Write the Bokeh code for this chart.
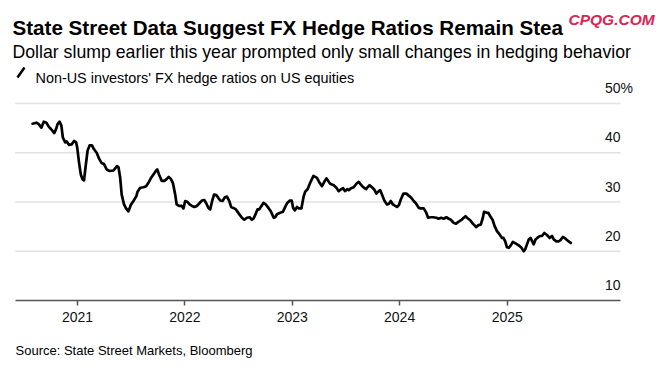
import pandas as pd
from bokeh.plotting import figure
from bokeh.models import (Range1d, FixedTicker, DatetimeTickFormatter, Label, Arrow, Title)
from bokeh.embed import file_html
from bokeh.resources import INLINE

TITLE = "State Street Data Suggest FX Hedge Ratios Remain Stea"
SUBTITLE = "Dollar slump earlier this year prompted only small changes in hedging behavior"
LEGEND = "Non-US investors' FX hedge ratios on US equities"
SOURCE = "Source: State Street Markets, Bloomberg"
WATERMARK = "CPQG.COM"

dates = [
    "2020-08-01", "2020-08-14", "2020-08-22", "2020-08-31", "2020-09-08", "2020-09-17", "2020-09-25",
    "2020-10-06", "2020-10-14", "2020-10-20", "2020-10-25", "2020-11-01", "2020-11-07", "2020-11-12",
    "2020-11-20", "2020-11-25", "2020-12-03", "2020-12-12", "2020-12-20", "2020-12-27", "2020-12-31",
    "2021-01-06", "2021-01-12", "2021-01-18", "2021-01-23", "2021-01-28", "2021-02-04", "2021-02-11",
    "2021-02-19", "2021-02-26", "2021-03-07", "2021-03-16", "2021-03-24", "2021-04-01", "2021-04-10",
    "2021-04-20", "2021-05-03", "2021-05-15", "2021-05-20", "2021-05-26", "2021-05-31", "2021-06-08",
    "2021-06-15", "2021-06-23", "2021-07-01", "2021-07-10", "2021-07-20", "2021-07-24", "2021-08-02",
    "2021-08-13", "2021-08-22", "2021-08-30", "2021-09-07", "2021-09-16", "2021-09-24", "2021-09-29",
    "2021-10-05", "2021-10-14", "2021-10-23", "2021-10-30", "2021-11-07", "2021-11-14", "2021-11-21",
    "2021-11-29", "2021-12-04", "2021-12-12", "2021-12-21", "2021-12-27", "2022-01-02",
    "2022-01-10", "2022-01-17", "2022-01-25", "2022-02-02", "2022-02-11", "2022-02-20", "2022-02-28",
    "2022-03-08", "2022-03-14", "2022-03-22", "2022-03-28", "2022-04-04", "2022-04-10", "2022-04-18",
    "2022-04-26", "2022-05-01", "2022-05-09", "2022-05-16", "2022-05-24", "2022-06-01", "2022-06-07",
    "2022-06-15", "2022-06-23", "2022-06-28", "2022-07-05", "2022-07-14", "2022-07-22", "2022-07-31",
    "2022-08-09", "2022-08-17", "2022-08-22", "2022-08-29", "2022-09-05", "2022-09-11", "2022-09-16",
    "2022-09-25", "2022-10-03", "2022-10-12", "2022-10-20", "2022-10-30", "2022-11-04", "2022-11-10",
    "2022-11-21", "2022-11-30", "2022-12-08", "2022-12-15", "2022-12-24", "2022-12-30",
    "2023-01-04", "2023-01-10", "2023-01-17", "2023-01-23", "2023-02-01", "2023-02-09", "2023-02-14",
    "2023-02-22", "2023-03-03", "2023-03-14", "2023-03-26", "2023-04-04", "2023-04-12", "2023-04-18",
    "2023-04-27", "2023-05-05", "2023-05-10", "2023-05-22", "2023-05-31", "2023-06-08", "2023-06-16",
    "2023-06-23", "2023-06-29", "2023-07-07", "2023-07-12", "2023-07-20", "2023-07-29", "2023-08-07",
    "2023-08-15", "2023-08-20", "2023-08-27", "2023-09-04", "2023-09-09", "2023-09-14", "2023-09-21",
    "2023-09-29", "2023-10-06", "2023-10-14", "2023-10-22", "2023-10-27", "2023-11-02", "2023-11-10",
    "2023-11-19", "2023-11-25", "2023-12-02", "2023-12-09", "2023-12-17", "2023-12-23", "2023-12-30",
    "2024-01-05", "2024-01-14", "2024-01-24", "2024-02-01", "2024-02-09", "2024-02-18", "2024-02-27",
    "2024-03-06", "2024-03-13", "2024-03-23", "2024-03-31", "2024-04-07", "2024-04-15", "2024-04-24",
    "2024-05-05", "2024-05-13", "2024-05-21", "2024-05-30", "2024-06-08", "2024-06-16", "2024-06-23",
    "2024-07-02", "2024-07-11", "2024-07-20", "2024-07-28", "2024-08-06", "2024-08-12", "2024-08-17",
    "2024-08-28", "2024-09-06", "2024-09-11", "2024-09-17", "2024-09-25", "2024-10-03", "2024-10-10",
    "2024-10-14", "2024-10-23", "2024-10-29", "2024-11-04", "2024-11-12", "2024-11-19", "2024-11-27",
    "2024-12-06", "2024-12-14", "2024-12-19", "2024-12-25", "2024-12-31",
    "2025-01-06", "2025-01-13", "2025-01-20", "2025-02-01", "2025-02-09", "2025-02-17", "2025-02-26",
    "2025-03-03", "2025-03-09", "2025-03-15", "2025-03-21", "2025-03-27", "2025-04-01", "2025-04-07",
    "2025-04-13", "2025-04-22", "2025-04-29", "2025-05-07", "2025-05-16", "2025-05-25", "2025-06-02",
    "2025-06-08", "2025-06-17", "2025-06-24", "2025-06-30", "2025-07-09", "2025-07-17", "2025-07-25",
    "2025-07-31", "2025-08-05",
]

hedge_ratio = [
    45.9, 46.1, 45.8, 45.1, 46.3, 46.1, 45.3,
    44.6, 44.0, 44.8, 45.8, 46.3, 45.5, 43.1,
    42.1, 42.3, 41.6, 41.7, 42.4, 42.1, 41.0,
    38.0, 35.6, 34.6, 34.4, 37.0, 40.4, 41.5,
    41.5, 40.7, 40.0, 38.7, 37.9, 37.7, 36.6,
    36.3, 36.4, 37.3, 37.1, 34.9, 31.5, 29.5,
    28.7, 28.1, 29.4, 30.2, 31.2, 32.1, 32.9,
    33.0, 33.2, 33.9, 34.8, 35.6, 36.3, 36.6,
    35.6, 34.3, 34.3, 34.6, 35.1, 34.7, 33.9,
    31.5, 29.5, 29.2, 29.2, 28.7, 30.2,
    30.0, 29.5, 29.2, 29.0, 29.2, 29.8, 30.3,
    30.4, 29.8, 28.8, 28.5, 30.3, 31.5, 31.4,
    30.7, 30.3, 30.2, 30.9, 31.1, 30.2, 29.0,
    28.8, 28.5, 28.1, 27.5, 26.8, 26.4, 26.8,
    26.9, 26.4, 26.6, 27.5, 28.5, 28.5, 29.0,
    29.8, 29.5, 28.8, 28.1, 26.8, 26.9, 27.5,
    27.8, 28.0, 29.0, 29.8, 30.3, 30.3,
    28.8, 28.3, 29.0, 28.7, 28.7, 31.2, 32.1,
    32.6, 33.9, 35.3, 34.9, 33.9, 33.2, 33.9,
    34.8, 34.1, 33.7, 33.4, 32.9, 32.2, 32.6,
    32.8, 32.2, 32.6, 32.4, 32.8, 33.0, 33.7,
    34.1, 33.7, 33.2, 32.8, 32.6, 33.0, 33.4,
    33.0, 32.6, 31.7, 32.2, 32.4, 31.5, 30.3,
    29.5, 29.6, 30.2, 29.5, 29.2, 29.0, 29.4,
    30.5, 31.7, 31.7, 31.3, 30.9, 30.2, 29.6,
    28.8, 28.7, 28.7, 27.9, 26.8, 26.9, 26.9,
    26.8, 26.6, 26.8, 26.6, 26.9, 26.6, 26.4,
    25.8, 25.6, 26.0, 26.3, 26.8, 27.1, 26.8,
    26.3, 25.6, 25.3, 24.9, 25.3, 25.4, 26.8,
    28.0, 27.8, 27.8, 27.1, 26.4, 25.1, 24.1,
    23.4, 22.7, 22.7, 22.0, 20.8,
    20.7, 21.2, 21.9, 21.5, 21.2, 20.8, 20.0,
    20.4, 21.4, 22.4, 22.7, 22.0, 21.4, 22.4,
    22.7, 23.1, 23.1, 23.7, 23.3, 22.7, 23.1,
    22.4, 22.0, 22.0, 22.2, 22.9, 22.6, 22.2,
    21.9, 21.7,
]

year_ticks = ["2021-01-01", "2022-01-01", "2023-01-01", "2024-01-01", "2025-01-01"]
y_ticks = [10, 20, 30, 40, 50]
y_tick_labels = ["10", "20", "30", "40", "50"]
grid_start, grid_end = "2020-06-03", "2026-01-21"

FONT = "Liberation Sans"

# layout (pixels)
W, H = 660, 378
FRAME_H = 300            # frame covers canvas rows 0..300
PX_PER_UNIT = 197.0 / 40  # 10 -> row 300, 50 -> row 103
Y_TOP = 10 + FRAME_H / PX_PER_UNIT
X_START, X_END = "2020-04-14", "2026-06-06"


def ms(s):
    return (pd.Timestamp(s) - pd.Timestamp("1970-01-01")).total_seconds() * 1000.0


MS_PER_PX = (ms(X_END) - ms(X_START)) / W


def cx(px):
    return ms(X_START) + px * MS_PER_PX


def cy(py):
    return Y_TOP - py / PX_PER_UNIT


x = pd.to_datetime(dates)

p = figure(width=W, height=H, x_axis_type="datetime",
           output_backend="svg", toolbar_location=None,
           x_range=Range1d(ms(X_START), ms(X_END)), y_range=Range1d(10, Y_TOP),
           min_border_left=0, min_border_right=0, min_border_top=0,
           min_border_bottom=H - FRAME_H)
p.outline_line_color = None
p.background_fill_color = "white"
p.border_fill_color = "white"
p.xgrid.visible = False
p.ygrid.visible = False
p.yaxis.visible = False

# horizontal gridlines
p.segment(x0=[ms(grid_start)] * 4, x1=[ms(grid_end)] * 4, y0=y_ticks[1:], y1=y_ticks[1:],
          line_color="#e2e2e2", line_width=1.5)

p.line(x, hedge_ratio, line_color="black", line_width=2.7, line_join="round", line_cap="round")

# x axis
xa = p.xaxis[0]
xa.bounds = (ms(grid_start), ms(grid_end))
xa.ticker = FixedTicker(ticks=[ms(t) for t in year_ticks])
xa.formatter = DatetimeTickFormatter(years="%Y", months="%Y", days="%Y", hours="%Y",
                                     minutes="%Y", seconds="%Y", milliseconds="%Y",
                                     microseconds="%Y", minsec="%Y", hourmin="%Y")
xa.axis_line_color = "#555555"
xa.axis_line_width = 1.5
xa.major_tick_line_color = "#555555"
xa.major_tick_line_width = 1.5
xa.major_tick_out = 5
xa.major_tick_in = 0
xa.minor_tick_line_color = None
xa.major_label_text_font = FONT
xa.major_label_text_font_size = "14px"
xa.major_label_text_color = "#111111"
xa.major_label_standoff = 6

# y tick labels inside, above gridlines
for v, t in zip(y_ticks, y_tick_labels):
    p.add_layout(Label(x=ms(grid_end), y=v, text=t, text_align="right", text_baseline="alphabetic",
                       y_offset=15.5, text_font=FONT, text_font_size="14px", text_color="#111111"))
p.add_layout(Label(x=ms(grid_end), y=y_ticks[-1], text="%", text_align="left",
                   text_baseline="alphabetic", y_offset=15.5, text_font=FONT,
                   text_font_size="14px", text_color="#111111"))

# header texts
p.add_layout(Label(x=cx(12), y=cy(27.3), text=TITLE,
                   text_font=FONT, text_font_style="bold", text_font_size="20.6px",
                   text_color="black", text_baseline="alphabetic"))
p.add_layout(Label(x=cx(12), y=cy(51.7), text=SUBTITLE,
                   text_font=FONT, text_font_size="17.7px", text_color="black",
                   text_baseline="alphabetic"))
p.add_layout(Label(x=cx(35), y=cy(77), text=LEGEND,
                   text_font=FONT, text_font_size="14.4px", text_color="black",
                   text_baseline="alphabetic"))
p.add_layout(Arrow(end=None, start=None, x_start=cx(17), y_start=cy(77), x_end=cx(24), y_end=cy(67),
                   line_color="black", line_width=2.5))
p.add_layout(Label(x=cx(568), y=cy(18.5), text=WATERMARK,
                   text_font=FONT, text_font_style="bold italic", text_font_size="15.5px",
                   text_color="#dc2452", text_baseline="alphabetic"))

# source below the axis
p.add_layout(Title(text=SOURCE, align="left", offset=15, standoff=37, vertical_align="top",
                   text_font=FONT, text_font_size="13px", text_font_style="normal",
                   text_color="black"), "below")

open("out.html", "w").write(file_html(p, INLINE))
